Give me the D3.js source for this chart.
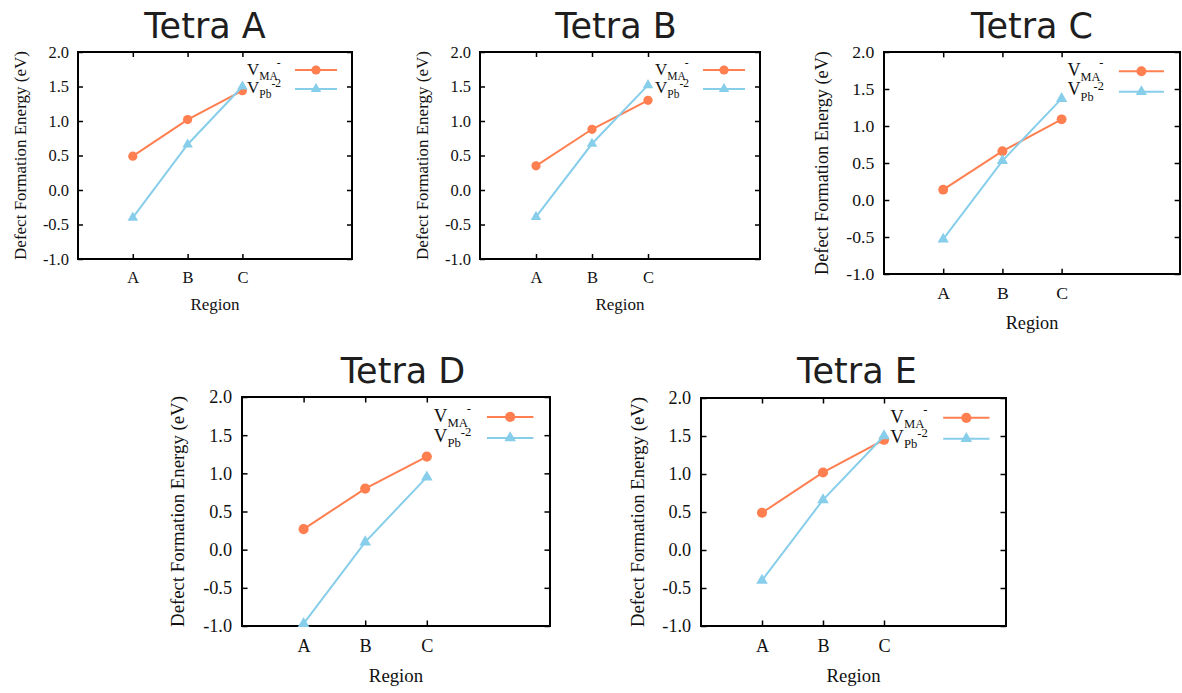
<!DOCTYPE html>
<html>
<head>
<meta charset="utf-8">
<script src="https://cdn.jsdelivr.net/npm/d3@7"></script>
<style>
  html, body { margin: 0; padding: 0; background: #ffffff; }
  svg { display: block; }
</style>
</head>
<body>
<svg id="chart" width="1182" height="693"></svg>
<script>
// ---------- data ----------
const regions = ["A", "B", "C"];
const yTickValues = [-1.0, -0.5, 0.0, 0.5, 1.0, 1.5, 2.0];
const yTickLabels = ["-1.0", "-0.5", "0.0", "0.5", "1.0", "1.5", "2.0"];
const panelTitles = ["Tetra A", "Tetra B", "Tetra C", "Tetra D", "Tetra E"];
const seriesNames = ["VMA", "VPb"];

const vmaTetraA = [0.49, 1.02, 1.44];
const vpbTetraA = [-0.40, 0.66, 1.50];
const vmaTetraB = [0.35, 0.88, 1.30];
const vpbTetraB = [-0.39, 0.67, 1.52];
const vmaTetraC = [0.14, 0.66, 1.09];
const vpbTetraC = [-0.53, 0.53, 1.37];
const vmaTetraD = [0.27, 0.80, 1.22];
const vpbTetraD = [-0.97, 0.10, 0.95];
const vmaTetraE = [0.49, 1.02, 1.45];
const vpbTetraE = [-0.40, 0.66, 1.50];

const panelVma = [vmaTetraA, vmaTetraB, vmaTetraC, vmaTetraD, vmaTetraE];
const panelVpb = [vpbTetraA, vpbTetraB, vpbTetraC, vpbTetraD, vpbTetraE];

// ---------- layout ----------
const layout = [
  { left: 78,  top: 52,  w: 274, h: 207, titleX: 205, titleY: 38 },
  { left: 480, top: 52,  w: 280, h: 207, titleX: 616, titleY: 38 },
  { left: 884, top: 52,  w: 296, h: 222, titleX: 1032, titleY: 38 },
  { left: 242, top: 397, w: 308, h: 229, titleX: 403, titleY: 383 },
  { left: 701, top: 398, w: 305, h: 228, titleX: 857, titleY: 383 }
];

const colorVMA = "#ff7f50";
const colorVPb = "#87ceeb";
const serif = "'Liberation Serif', 'DejaVu Serif', serif";
const svg = d3.select("#chart");

layout.forEach((L, p) => {
  const s = L.h / 207;
  const g = svg.append("g");
  const x = d3.scaleLinear().domain([0, 5]).range([L.left, L.left + L.w]);
  const y = d3.scaleLinear().domain([-1, 2]).range([L.top + L.h, L.top]);
  const xIdx = regions.map((r, i) => i + 1);
  const tick = 5 * s;

  // title
  g.append("text")
    .attr("x", L.titleX).attr("y", L.titleY)
    .attr("text-anchor", "middle")
    .attr("font-family", "'DejaVu Sans', Verdana, sans-serif")
    .attr("font-size", 35)
    .attr("fill", "#1e1e1e")
    .text(panelTitles[p]);

  // axes
  const left = g.append("g").attr("transform", `translate(${L.left},0)`)
    .call(d3.axisLeft(y).tickValues(yTickValues)
      .tickFormat((d, i) => yTickLabels[i]).tickSize(-tick).tickPadding(9 * s));
  const right = g.append("g").attr("transform", `translate(${L.left + L.w},0)`)
    .call(d3.axisRight(y).tickValues(yTickValues).tickFormat("").tickSize(-tick));
  const bottom = g.append("g").attr("transform", `translate(0,${L.top + L.h})`)
    .call(d3.axisBottom(x).tickValues(xIdx)
      .tickFormat((d) => regions[d - 1]).tickSize(-tick).tickPadding(12 * s));
  const topAx = g.append("g").attr("transform", `translate(0,${L.top})`)
    .call(d3.axisTop(x).tickValues(xIdx).tickFormat("").tickSize(-tick));

  [left, right, bottom, topAx].forEach(a => {
    a.select(".domain").remove();
    a.selectAll(".tick line").attr("stroke", "#000").attr("stroke-width", 1.5);
    a.selectAll(".tick text")
      .attr("font-family", serif)
      .attr("font-size", 16.5 * s)
      .attr("fill", "#111");
  });

  // frame
  g.append("rect")
    .attr("x", L.left).attr("y", L.top)
    .attr("width", L.w).attr("height", L.h)
    .attr("fill", "none").attr("stroke", "#000").attr("stroke-width", 2);

  // axis titles
  g.append("text")
    .attr("transform", `translate(${L.left - 52 * s},${L.top + L.h / 2}) rotate(-90)`)
    .attr("text-anchor", "middle")
    .attr("font-family", serif).attr("font-size", 17 * s).attr("fill", "#111")
    .text("Defect Formation Energy (eV)");
  g.append("text")
    .attr("x", L.left + L.w / 2).attr("y", L.top + L.h + 51 * s)
    .attr("text-anchor", "middle")
    .attr("font-family", serif).attr("font-size", 17 * s).attr("fill", "#111")
    .text("Region");

  const line = d3.line().x((d, i) => x(i + 1)).y(d => y(d));
  const tri = d3.symbol().type(d3.symbolTriangle).size(48 * s * s);

  // VMA series
  g.append("path").datum(panelVma[p])
    .attr("d", line).attr("fill", "none")
    .attr("stroke", colorVMA).attr("stroke-width", 2);
  g.selectAll(".pma").data(panelVma[p]).enter().append("circle")
    .attr("cx", (d, i) => x(i + 1)).attr("cy", d => y(d))
    .attr("r", 4.6 * s).attr("fill", colorVMA);

  // VPb series
  g.append("path").datum(panelVpb[p])
    .attr("d", line).attr("fill", "none")
    .attr("stroke", colorVPb).attr("stroke-width", 2);
  g.selectAll(".ppb").data(panelVpb[p]).enter().append("path")
    .attr("d", tri)
    .attr("transform", (d, i) => `translate(${x(i + 1)},${y(d)})`)
    .attr("fill", colorVPb);

  // legend
  const R = L.left + L.w;
  const l1 = L.top + 18 * s, l2 = L.top + 37 * s;
  const x0 = R - 57 * s, x1 = R - 15 * s, xm = R - 36 * s;
  g.append("line").attr("x1", x0).attr("x2", x1).attr("y1", l1).attr("y2", l1)
    .attr("stroke", colorVMA).attr("stroke-width", 2);
  g.append("circle").attr("cx", xm).attr("cy", l1).attr("r", 4.6 * s).attr("fill", colorVMA);
  g.append("line").attr("x1", x0).attr("x2", x1).attr("y1", l2).attr("y2", l2)
    .attr("stroke", colorVPb).attr("stroke-width", 2);
  g.append("path").attr("d", tri).attr("transform", `translate(${xm},${l2})`).attr("fill", colorVPb);

  const tx = R - 105 * s;
  const b1 = L.top + 22.5 * s, b2 = L.top + 40.5 * s;
  const t1 = g.append("text").attr("x", tx).attr("y", b1)
    .attr("font-family", serif).attr("font-size", 17 * s).attr("fill", "#111");
  t1.append("tspan").text("V");
  t1.append("tspan").attr("font-size", 11.5 * s).attr("y", b1 + 5 * s).text("MA");
  t1.append("tspan").attr("font-size", 11.5 * s).attr("y", b1 - 9 * s).attr("dx", -1 * s).text("-");

  const t2 = g.append("text").attr("x", tx).attr("y", b2)
    .attr("font-family", serif).attr("font-size", 17 * s).attr("fill", "#111");
  t2.append("tspan").text("V");
  t2.append("tspan").attr("font-size", 11.5 * s).attr("y", b2 + 5 * s).text("Pb");
  t2.append("tspan").attr("font-size", 11.5 * s).attr("y", b2 - 5.5 * s).text("-2");
});
</script>
</body>
</html>
